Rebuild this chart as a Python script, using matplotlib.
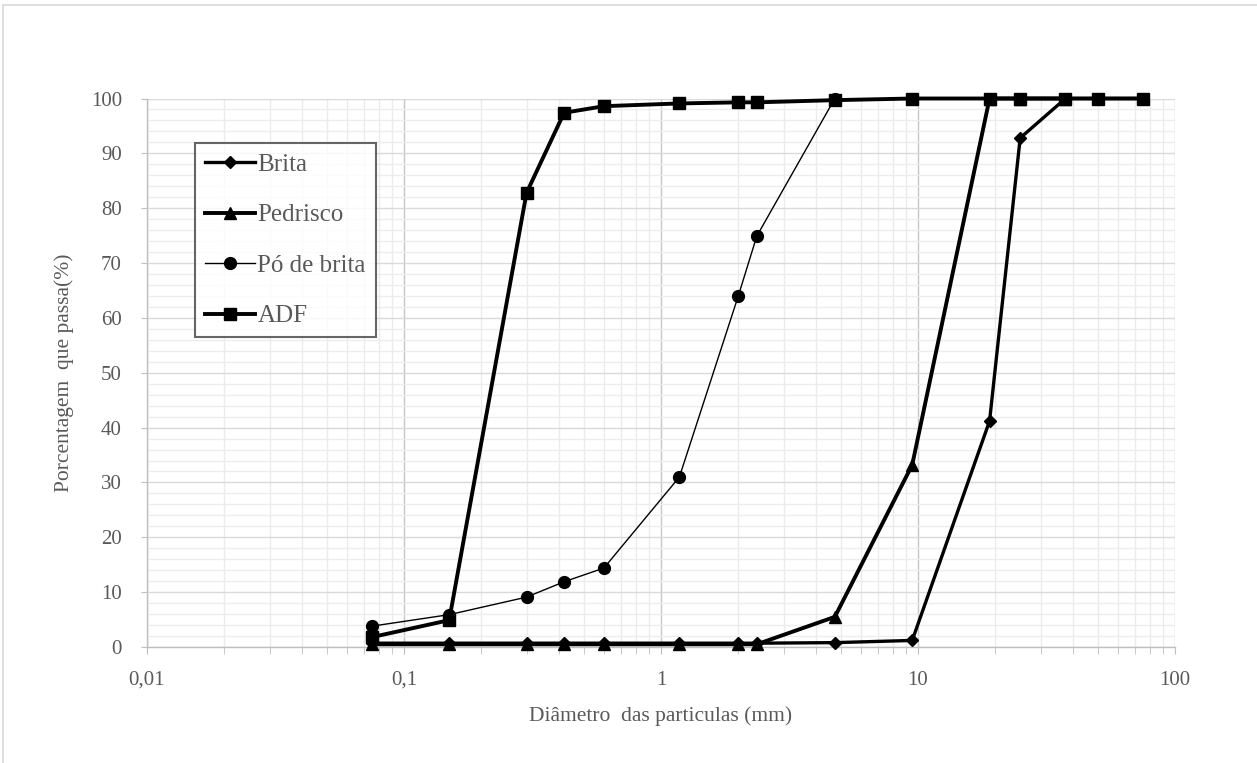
import matplotlib
matplotlib.use("Agg")
import matplotlib.pyplot as plt
from matplotlib.ticker import FixedLocator, LogLocator, NullFormatter, MultipleLocator
from matplotlib.lines import Line2D

# Dados das curvas granulométricas (abertura da peneira em mm, % passante)
brita_x = [0.075, 0.15, 0.3, 0.42, 0.6, 1.18, 2.0, 2.36, 4.75, 9.5, 19, 25, 37.5, 50, 75]
brita_y = [0.7, 0.7, 0.7, 0.7, 0.7, 0.7, 0.7, 0.7, 0.8, 1.2, 41.2, 92.8, 100, 100, 100]

pedrisco_x = [0.075, 0.15, 0.3, 0.42, 0.6, 1.18, 2.0, 2.36, 4.75, 9.5, 19, 25, 37.5]
pedrisco_y = [0.5, 0.5, 0.5, 0.5, 0.5, 0.5, 0.5, 0.5, 5.5, 33.2, 100, 100, 100]

po_x = [0.075, 0.15, 0.3, 0.42, 0.6, 1.18, 2.0, 2.36, 4.75]
po_y = [3.8, 5.9, 9.1, 11.9, 14.4, 31.0, 64.0, 74.9, 100]

adf_x = [0.075, 0.15, 0.3, 0.42, 0.6, 1.18, 2.0, 2.36, 4.75, 9.5, 19, 25, 37.5, 50, 75]
adf_y = [1.8, 4.9, 82.8, 97.4, 98.6, 99.1, 99.3, 99.3, 99.7, 100, 100, 100, 100, 100, 100]

x_ticks = [0.01, 0.1, 1, 10, 100]
x_tick_labels = ["0,01", "0,1", "1", "10", "100"]

plt.rcParams['font.family'] = ['Liberation Serif', 'DejaVu Serif']
txt = '#595959'

fig = plt.figure(figsize=(12.57, 7.63), dpi=100)
ax = fig.add_axes([0.1169, 0.152, 0.8178, 0.7189])

ax.plot(brita_x, brita_y, color='black', lw=2.4, marker='D', ms=6.5, label='Brita',
        zorder=3, clip_on=False)
ax.plot(pedrisco_x, pedrisco_y, color='black', lw=2.8, marker='^', ms=9, label='Pedrisco',
        zorder=3, clip_on=False)
ax.plot(po_x, po_y, color='black', lw=1.0, marker='o', ms=8.5, label='Pó de brita',
        zorder=4, clip_on=False)
ax.plot(adf_x, adf_y, color='black', lw=2.8, marker='s', ms=9, label='ADF',
        zorder=5, clip_on=False)

ax.set_xscale('log')
ax.set_xlim(0.01, 100)
ax.set_ylim(0, 100)
ax.xaxis.set_major_locator(FixedLocator(x_ticks))
ax.set_xticklabels(x_tick_labels)
ax.xaxis.set_minor_locator(LogLocator(base=10, subs=range(2, 10)))
ax.xaxis.set_minor_formatter(NullFormatter())
ax.yaxis.set_major_locator(MultipleLocator(10))
ax.yaxis.set_minor_locator(MultipleLocator(2))

ax.grid(which='major', axis='x', color='#c6c6c6', lw=1.0)
ax.grid(which='minor', axis='x', color='#ebebeb', lw=1.0)
ax.grid(which='major', axis='y', color='#d9d9d9', lw=1.0)
ax.grid(which='minor', axis='y', color='#ededed', lw=1.0)
ax.set_axisbelow(True)

for s in ['top', 'right']:
    ax.spines[s].set_visible(False)
for s in ['left', 'bottom']:
    ax.spines[s].set_color('#bfbfbf')
    ax.spines[s].set_linewidth(1.0)

ax.tick_params(axis='x', which='both', direction='out', length=5, color='#bfbfbf',
               labelsize=15, labelcolor=txt, pad=12)
ax.tick_params(axis='y', which='major', direction='out', length=4, color='#bfbfbf',
               labelsize=15, labelcolor=txt, pad=14)
ax.tick_params(axis='y', which='minor', length=0)

ax.set_xlabel('Diâmetro  das particulas (mm)', fontsize=15.5, color=txt, labelpad=12)
ax.set_ylabel('Porcentagem  que passa(%)', fontsize=15.5, color=txt, labelpad=12)

leg = ax.legend(loc='upper left', bbox_to_anchor=(0.0467, 0.918), borderaxespad=0,
                fontsize=18, frameon=True, fancybox=False, handlelength=2.0,
                handletextpad=0.1, labelspacing=1.12, borderpad=0.4)
leg.get_frame().set_edgecolor('#404040')
leg.get_frame().set_linewidth(1.5)
for t in leg.get_texts():
    t.set_color(txt)

# moldura externa clara (como no Excel)
fig.add_artist(Line2D([0.0024, 1.0], [0.9934, 0.9934], color='#d9d9d9', lw=1.2))
fig.add_artist(Line2D([0.0024, 0.0024], [0.0, 0.9934], color='#d9d9d9', lw=1.2))

fig.savefig('out.png', dpi=100)
